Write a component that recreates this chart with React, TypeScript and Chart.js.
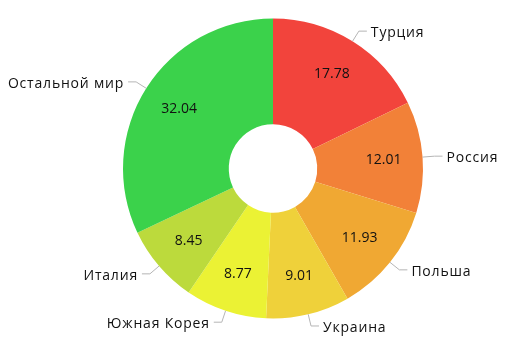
import React, { useEffect, useRef } from "react";
import { Chart, registerables } from "chart.js";

Chart.register(...registerables);

const categories = ["Турция", "Россия", "Польша", "Украина", "Южная Корея", "Италия", "Остальной мир"];
const values = [17.78, 12.01, 11.93, 9.01, 8.77, 8.45, 32.04];
const colors = ["#F2443C", "#F28138", "#F0A833", "#EFD13A", "#EBF234", "#BCDA3C", "#3BD24B"];

const FONT = '14px "Open Sans", "Noto Sans", sans-serif';

const labelPlugin = {
  id: "outerLabels",
  afterDatasetsDraw(chart: any) {
    const ctx = chart.ctx;
    const meta = chart.getDatasetMeta(0);
    ctx.save();
    meta.data.forEach((arc: any, i: number) => {
      const p = arc.getProps(["x", "y", "startAngle", "endAngle", "outerRadius", "innerRadius"], true);
      const a = (p.startAngle + p.endAngle) / 2;
      const cos = Math.cos(a);
      const sin = Math.sin(a);
      // value label
      const rv = p.outerRadius * 0.74;
      ctx.font = FONT;
      (ctx as any).letterSpacing = "0px";
      ctx.fillStyle = "#111";
      ctx.textAlign = "center";
      ctx.textBaseline = "middle";
      ctx.fillText(values[i].toFixed(2), p.x + rv * cos, p.y + rv * sin);
      // leader line
      const R = p.outerRadius;
      const x0 = p.x + R * cos, y0 = p.y + R * sin;
      const x1 = p.x + (R + 12) * cos, y1 = p.y + (R + 12) * sin;
      const dir = cos >= 0 ? 1 : -1;
      const x2 = x1 + dir * 8;
      ctx.strokeStyle = "#b5b5b5";
      ctx.lineWidth = 1;
      ctx.beginPath();
      ctx.moveTo(x0, y0);
      ctx.lineTo(x1, y1);
      ctx.lineTo(x2, y1);
      ctx.stroke();
      ctx.fillStyle = "#111";
      (ctx as any).letterSpacing = "0.8px";
      ctx.textAlign = dir > 0 ? "left" : "right";
      ctx.fillText(categories[i], x2 + dir * 4, y1 + 2);
    });
    ctx.restore();
  },
};

export default function App() {
  const ref = useRef<HTMLCanvasElement>(null);
  useEffect(() => {
    document.body.style.margin = "0";
    const chart = new Chart(ref.current!, {
      type: "doughnut",
      data: {
        labels: categories,
        datasets: [{ data: values, backgroundColor: colors, borderWidth: 0 }],
      },
      options: {
        animation: false,
        responsive: false,
        cutout: "29.5%",
        layout: { padding: { top: 18.5, bottom: 35.5, left: 123, right: 85 } },
        plugins: { legend: { display: false }, tooltip: { enabled: false } },
      },
      plugins: [labelPlugin],
    });
    return () => chart.destroy();
  }, []);
  return (
    <div style={{ width: 508, height: 354 }}>
      <canvas ref={ref} width={508} height={354} style={{ width: 508, height: 354 }} />
    </div>
  );
}
